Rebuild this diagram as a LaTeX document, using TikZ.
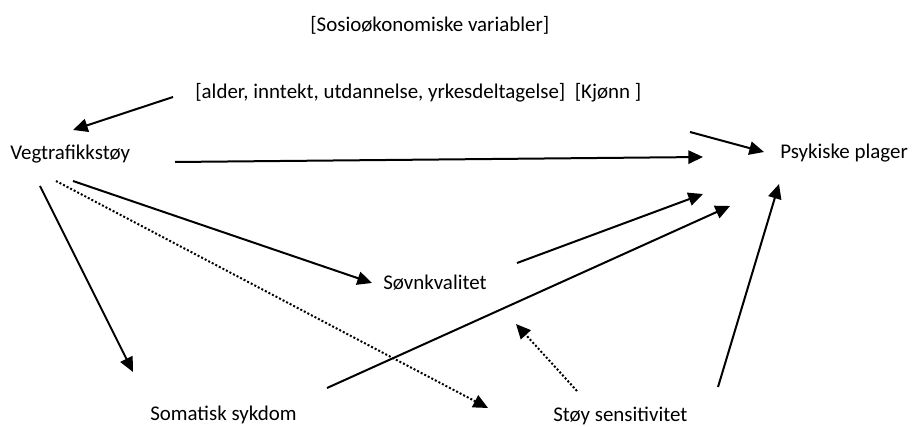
\documentclass[tikz,border=0pt]{standalone}
\usepackage{fontspec}
\setmainfont{Carlito}
\usetikzlibrary{arrows.meta}
\begin{document}
\begin{tikzpicture}[x=0.75pt,y=-0.75pt,
  lbl/.style={anchor=base west,inner sep=0pt,font=\fontsize{15.7}{18}\selectfont},
  arr/.style={line width=1.5pt,-{Triangle[length=11pt,width=10pt]}},
  dotarr/.style={line width=1.5pt,dash pattern=on 1.5pt off 1.5pt,-{Triangle[length=11pt,width=10pt]}}]
\useasboundingbox (0,0) rectangle (912,427);
% texts
\node[lbl] (sosio) at (310,32) {[Sosioøkonomiske variabler]};
\node[lbl] (alder) at (195,99) {[alder, inntekt, utdannelse, yrkesdeltagelse]\ \ [Kjønn ]};
\node[lbl] (veg) at (10,160) {Vegtrafikkstøy};
\node[lbl] (psyk) at (780,159) {Psykiske plager};
\node[lbl] (sovn) at (383,289) {Søvnkvalitet};
\node[lbl] (soma) at (150,420) {Somatisk sykdom};
\node[lbl] (stoy) at (553,421) {Støy sensitivitet};
% endpoints
\coordinate (a1) at (173,97);   \coordinate (a2) at (73,130);
\coordinate (b1) at (175,162);  \coordinate (b2) at (703,157);
\coordinate (c1) at (690,132);  \coordinate (c2) at (764,152);
\coordinate (d1) at (517,263);  \coordinate (d2) at (703,194);
\coordinate (e1) at (327,388);  \coordinate (e2) at (730,206);
\coordinate (f1) at (718,387);  \coordinate (f2) at (779,184);
\coordinate (g1) at (73,181);   \coordinate (g2) at (372,283);
\coordinate (h1) at (56,181);   \coordinate (h2) at (488,408);
\coordinate (i1) at (40,186);   \coordinate (i2) at (133,372);
\coordinate (j1) at (577,391);  \coordinate (j2) at (516,324);
% connectors
\draw[arr] (a1) -- (a2);
\draw[arr] (b1) -- (b2);
\draw[arr] (c1) -- (c2);
\draw[arr] (d1) -- (d2);
\draw[arr] (e1) -- (e2);
\draw[arr] (f1) -- (f2);
\draw[arr] (g1) -- (g2);
\draw[dotarr] (h1) -- (h2);
\draw[arr] (i1) -- (i2);
\draw[dotarr] (j1) -- (j2);
\end{tikzpicture}
\end{document}
